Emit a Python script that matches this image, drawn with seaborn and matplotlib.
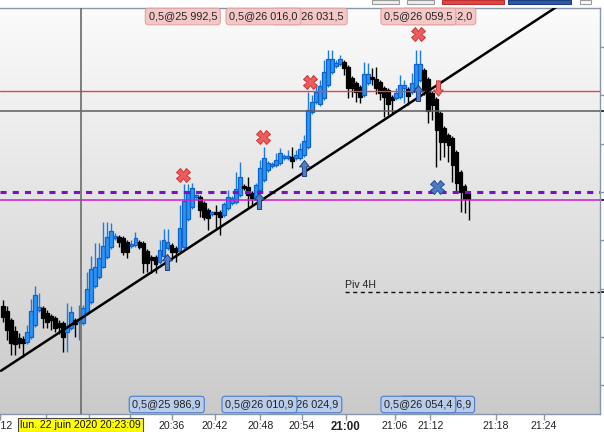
import numpy as np
import pandas as pd
import matplotlib
matplotlib.use("Agg")
import matplotlib.pyplot as plt
import matplotlib.transforms as mtrans
import seaborn as sns
from matplotlib.path import Path
from matplotlib.colors import LinearSegmentedColormap
from matplotlib.patches import Rectangle

# ---------------- data ----------------
open_ = [25952.8, 25950.8, 25947.0, 25942.5, 25939.6, 25939.2, 25937.9, 25940.0, 25945.0, 25951.2,
         25952.0, 25949.9, 25948.7, 25947.9, 25945.8, 25945.8, 25942.1, 25943.7, 25947.0, 25946.2,
         25945.8, 25949.9, 25954.5, 25961.1, 25964.8, 25969.0, 25973.1, 25977.2, 25981.0, 25981.4,
         25981.0, 25979.3, 25977.7, 25978.1, 25979.3, 25978.9, 25975.6, 25973.1, 25973.1, 25971.0,
         25973.5, 25976.8, 25978.1, 25976.8, 25975.6, 25977.2, 25988.8, 25993.8, 25997.9, 25997.9,
         25995.5, 25992.6, 25990.9, 25991.7, 25991.7, 25990.5, 25993.4, 25995.5, 25995.9, 25998.8,
         26002.5, 26002.1, 25999.6, 25997.5, 26000.8, 26005.0, 26009.1, 26010.8, 26011.2, 26012.0,
         26014.1, 26014.1, 26014.5, 26014.1, 26014.1, 26015.3, 26018.6, 26033.1, 26037.3, 26036.4,
         26038.9, 26044.3, 26049.7, 26052.2, 26053.0, 26053.8, 26051.8, 26047.2, 26045.1, 26043.5,
         26040.2, 26045.1, 26047.2, 26046.8, 26045.6, 26043.1, 26042.2, 26039.3, 26038.9, 26039.3,
         26043.1, 26042.7, 26041.4, 26043.1, 26046.4, 26050.5, 26046.8, 26041.0, 26038.5, 26032.7,
         26026.5, 26023.6, 26022.4, 26016.6, 26008.3, 26002.5, 25999.6]
close = [25948.3, 25942.9, 25937.5, 25937.1, 25937.5, 25937.5, 25942.1, 25950.8, 25957.4, 25952.4,
         25947.9, 25946.2, 25947.0, 25943.7, 25944.1, 25940.0, 25944.1, 25950.3, 25945.4, 25947.4,
         25952.0, 25959.9, 25968.1, 25969.0, 25972.7, 25977.7, 25981.4, 25983.9, 25981.8, 25979.3,
         25975.2, 25975.2, 25978.5, 25981.0, 25977.2, 25970.6, 25970.6, 25971.9, 25970.2, 25976.0,
         25980.1, 25979.3, 25975.2, 25975.2, 25985.1, 25996.3, 25999.6, 26001.7, 25998.4, 25992.6,
         25989.7, 25989.2, 25991.3, 25990.9, 25989.7, 25995.0, 25997.9, 25997.5, 26001.3, 26006.2,
         26001.7, 25998.8, 25997.5, 26002.9, 26009.9, 26014.1, 26012.0, 26011.6, 26013.3, 26016.2,
         26014.9, 26014.9, 26012.8, 26015.3, 26017.8, 26021.1, 26034.0, 26037.3, 26041.4, 26043.9,
         26049.7, 26055.1, 26055.1, 26053.4, 26055.1, 26051.3, 26043.1, 26043.1, 26041.4, 26039.3,
         26048.9, 26048.9, 26046.8, 26043.1, 26041.0, 26039.3, 26036.4, 26038.1, 26041.0, 26044.3,
         26044.3, 26039.8, 26045.1, 26053.0, 26053.0, 26042.2, 26033.5, 26036.0, 26025.7, 26020.7,
         26020.7, 26019.5, 26011.2, 26003.7, 26000.0, 25997.1, 25997.1]
high = [25955.3, 25952.8, 25947.9, 25944.5, 25941.6, 25940.4, 25945.0, 25955.7, 25961.1, 25958.2,
        25952.8, 25951.2, 25949.5, 25948.7, 25947.0, 25946.6, 25954.1, 25952.8, 25947.9, 25953.2,
        25953.2, 25966.9, 25973.5, 25978.9, 25978.9, 25987.6, 25987.6, 25987.2, 25983.0, 25982.2,
        25981.8, 25980.1, 25980.1, 25983.5, 25980.1, 25979.7, 25976.4, 25973.9, 25973.9, 25980.1,
        25984.7, 25984.7, 25978.9, 25977.7, 25994.6, 26003.3, 26003.3, 26003.7, 25999.2, 25998.8,
        25996.3, 25993.4, 25992.1, 25994.6, 25992.6, 25995.9, 26000.8, 25998.4, 26008.3, 26012.4,
        26003.3, 26006.2, 26000.4, 26003.7, 26013.3, 26018.6, 26012.8, 26012.4, 26016.2, 26018.2,
        26015.7, 26017.4, 26018.6, 26017.4, 26020.3, 26023.6, 26041.4, 26040.2, 26044.3, 26046.4,
        26054.7, 26058.8, 26058.8, 26054.7, 26056.7, 26054.7, 26052.6, 26048.0, 26046.0, 26044.3,
        26053.8, 26053.4, 26051.3, 26051.8, 26046.4, 26043.9, 26043.1, 26040.2, 26043.1, 26048.5,
        26046.4, 26043.5, 26049.3, 26058.8, 26058.8, 26051.3, 26047.6, 26041.8, 26039.3, 26033.5,
        26027.3, 26024.4, 26023.2, 26017.4, 26009.1, 26003.3, 26000.4]
low = [25946.2, 25938.7, 25932.5, 25932.5, 25935.4, 25931.7, 25937.1, 25939.2, 25944.1, 25950.3,
       25943.7, 25943.7, 25942.9, 25942.1, 25941.2, 25933.8, 25933.8, 25942.9, 25940.0, 25938.7,
       25945.0, 25949.1, 25953.6, 25960.3, 25964.0, 25968.5, 25972.3, 25976.4, 25980.1, 25977.2,
       25973.9, 25972.7, 25976.8, 25977.2, 25976.4, 25966.5, 25966.9, 25966.5, 25966.5, 25970.2,
       25972.7, 25976.0, 25973.1, 25971.0, 25974.8, 25976.4, 25988.0, 25993.0, 25997.1, 25989.7,
       25988.4, 25984.3, 25990.1, 25985.1, 25982.2, 25989.7, 25992.6, 25994.6, 25995.0, 25997.9,
       26000.8, 25993.8, 25994.6, 25996.7, 26000.0, 26004.2, 26008.3, 26009.9, 26010.4, 26011.2,
       26013.3, 26013.3, 26009.9, 26013.3, 26013.3, 26014.5, 26017.8, 26032.3, 26036.4, 26035.6,
       26038.1, 26043.5, 26048.9, 26051.3, 26052.2, 26048.5, 26038.9, 26039.3, 26037.3, 26036.9,
       26039.3, 26044.3, 26044.3, 26040.6, 26038.1, 26031.1, 26031.9, 26032.7, 26038.1, 26038.5,
       26036.9, 26036.0, 26040.6, 26042.2, 26045.6, 26040.2, 26028.6, 26029.8, 26010.4, 26013.3,
       26014.5, 26012.4, 26004.2, 26000.0, 25991.7, 25991.3, 25988.4]

# x tick labels (candle index positions)
tick_pos = [-0.75, 42.0, 52.8, 64.1, 74.4, 85.4, 97.7, 106.5, 122.8, 134.8]
tick_txt = ["20:12", "20:36", "20:42", "20:48", "20:54", "21:00", "21:06", "21:12", "21:18", "21:24"]
hidden_ticks = [10.7, 21.5, 31.6]
crosshair_idx = 19.4
crosshair_txt = "lun. 22 juin 2020 20:23:09"

# price levels
price_ticks = [25920, 25940, 25960, 25980, 26000, 26020, 26040, 26060]
red_level = 26041.8
gray_level = 26033.5
purple_level = 26000.0
magenta_level = 25996.7
pivot_level = 25958.6
pivot_start = 85.3
pivot_txt = "Piv 4H"

# trend line
trend_x = [-0.5, 138.8]
trend_y = [25926.0, 26077.6]

# executions
sell_x = [44.8, 64.9, 76.4, 103.5]
sell_y = [26007.0, 26022.8, 26045.6, 26065.4]
sell_arrow_x = [108.5]
sell_arrow_y = [26043.1]
buy_x = [40.8, 63.9, 75.1, 103.5]
buy_y = [25971.0, 25996.3, 26009.9, 26041.0]
buyx_x = [108.2]
buyx_y = [26002.1]

top_lbl_x = [44.8, 64.9, 76.4, 103.5, 108.5]
top_lbl_txt = ["0,5@25 992,5", "0,5@26 016,0", "0,5@26 031,5", "0,5@26 059,5", "0,5@26 042,0"]
bot_lbl_x = [40.8, 63.9, 75.1, 103.5, 108.2]
bot_lbl_txt = ["0,5@25 986,9", "0,5@26 010,9", "0,5@26 024,9", "0,5@26 054,4", "0,5@26 006,9"]

# ---------------- drawing ----------------
sns.set_theme(style="white")
plt.rcParams['font.family'] = ['Liberation Sans', 'DejaVu Sans']

fig = plt.figure(figsize=(6.04, 4.32), dpi=100, facecolor="white")
ax = fig.add_axes([0, 18 / 432, 600 / 604, 406 / 432])

df = pd.DataFrame(dict(open=open_, high=high, low=low, close=close))
df["idx"] = np.arange(len(df))
df["up"] = df["close"] >= df["open"]

xlim = (-0.4975, 148.76)
ylim = (25908.1, 26076.2)

# background gradient
cmap = LinearSegmentedColormap.from_list("bg", ["#cacaca", "#fbfbfb"])
ax.imshow(np.linspace(0, 1, 256).reshape(-1, 1), origin="lower", extent=[0, 1, 0, 1],
          transform=ax.transAxes, aspect="auto", cmap=cmap, zorder=0)

blue_face, blue_edge = "#2b93f6", "#0f62c8"
wick_col = np.where(df["up"], "#1c7ae6", "#000000")
ax.vlines(df["idx"], df["low"], df["high"], colors=wick_col, lw=1.0, zorder=2)
body_bottom = np.minimum(df["open"], df["close"])
body_h = np.maximum((df["close"] - df["open"]).abs(), 0.7)
ax.bar(df["idx"], body_h, bottom=body_bottom, width=0.95,
       color=np.where(df["up"], blue_face, "#000000"),
       edgecolor=np.where(df["up"], blue_edge, "#000000"), linewidth=0.9, zorder=3)

# horizontal levels
ax.axhline(red_level, color="#e24646", lw=1.0, zorder=4)
ax.axhline(gray_level, color="#5c5c5c", lw=1.1, zorder=4)
ax.axhline(purple_level, color="#7a10c2", lw=2.2, dashes=(2, 2), zorder=4)
ax.axhline(magenta_level, color="#d418d4", lw=1.1, zorder=4)
ax.hlines(pivot_level, pivot_start, xlim[1], colors="#111111", lw=1.0,
          linestyles=(0, (3, 2.5)), zorder=4)
ax.text(pivot_start, pivot_level + 0.9, pivot_txt, fontsize=7.6, color="#222222",
        ha="left", va="bottom", zorder=6)

# crosshair
ax.axvline(crosshair_idx, color="#6b6b6b", lw=1.2, zorder=4)

# trend line
sns.lineplot(x=trend_x, y=trend_y, color="black", lw=1.8, ax=ax, zorder=5)

# markers
up_arrow = Path([(0, 1), (0.62, 0.2), (0.26, 0.2), (0.26, -1), (-0.26, -1), (-0.26, 0.2),
                 (-0.62, 0.2), (0, 1)], closed=True)
down_arrow = Path([(0, -1), (0.62, -0.2), (0.26, -0.2), (0.26, 1), (-0.26, 1), (-0.26, -0.2),
                   (-0.62, -0.2), (0, -1)], closed=True)
ax.plot(sell_x, sell_y, ls="none", marker="X", ms=10, mfc="#f05c5c", mec="#c23a3a", mew=0.7, zorder=7)
ax.plot(sell_arrow_x, sell_arrow_y, ls="none", marker=down_arrow, ms=11, mfc="#ee6a6a",
        mec="#c03c3c", mew=0.7, zorder=7)
ax.plot(buy_x, buy_y, ls="none", marker=up_arrow, ms=11.5, mfc="#4e7ec8", mec="#1f3f80", mew=0.7, zorder=7)
ax.plot(buyx_x, buyx_y, ls="none", marker="X", ms=10, mfc="#4b7bc5", mec="#2a4e8e", mew=0.7, zorder=7)

# order labels
blend = mtrans.blended_transform_factory(ax.transData, ax.transAxes)
for k, (x, t) in enumerate(zip(top_lbl_x, top_lbl_txt)):
    ax.text(x, 0.979, t, transform=blend, ha="center", va="center", fontsize=7.8, color="#222222",
            bbox=dict(boxstyle="round,pad=0.3,rounding_size=0.3", fc="#f5c8c8", ec="#e2a4a4", lw=0.8),
            zorder=20 - k, clip_on=False)
for k, (x, t) in enumerate(zip(bot_lbl_x, bot_lbl_txt)):
    ax.text(x, 0.0234, t, transform=blend, ha="center", va="center", fontsize=7.8, color="#222222",
            bbox=dict(boxstyle="round,pad=0.3,rounding_size=0.3", fc="#b9cce9", ec="#4d7cc8", lw=0.8),
            zorder=20 - k, clip_on=False)

# crosshair time label
ax.text(crosshair_idx, -0.027, crosshair_txt, transform=blend, ha="center", va="center",
        fontsize=7.6, color="#111111",
        bbox=dict(boxstyle="square,pad=0.2", fc="#ffff00", ec="#444444", lw=0.8),
        zorder=30, clip_on=False)

# axes styling
ax.set_xlim(*xlim)
ax.set_ylim(*ylim)
for side in ["top", "right", "bottom"]:
    ax.spines[side].set_color("#8797a9")
    ax.spines[side].set_linewidth(1.0)
ax.spines["left"].set_visible(False)

ax.yaxis.tick_right()
ax.set_yticks(price_ticks)
ax.set_yticklabels([])
ax.set_yticks([gray_level, magenta_level, pivot_level], minor=True)
ax.tick_params(axis="y", which="major", length=4, width=1, color="#8797a9",
               right=True, left=False, labelright=False, labelleft=False)
ax.tick_params(axis="y", which="minor", length=4, width=1.2, color="#111111",
               right=True, left=False)

ax.set_xticks(tick_pos)
ax.set_xticklabels(tick_txt)
ax.set_xticks(hidden_ticks, minor=True)
ax.tick_params(axis="x", which="both", length=4, width=1, color="#8797a9", bottom=True,
               pad=1.2, labelsize=7.6, labelcolor="#222222")
for lbl in ax.get_xticklabels():
    if lbl.get_text() == "21:00":
        lbl.set_fontweight("bold")
        lbl.set_fontsize(8.3)
ax.set_xlabel("")
ax.set_ylabel("")
ax.grid(False)

# window chrome at the very top
for (x0, w, fc, ec) in [(372, 27, "#eeeeee", "#9a9a9a"), (407, 27, "#eeeeee", "#9a9a9a"),
                        (442, 62, "#e04646", "#c03030"), (508, 63, "#2c5aa8", "#1c3f80"),
                        (580, 11, "#ffffff", "#9a9a9a")]:
    fig.add_artist(Rectangle((x0 / 604, 1 - 4 / 432), w / 604, 4 / 432, transform=fig.transFigure,
                             fc=fc, ec=ec, lw=0.8))

fig.savefig("out.png", dpi=100, facecolor="white")
